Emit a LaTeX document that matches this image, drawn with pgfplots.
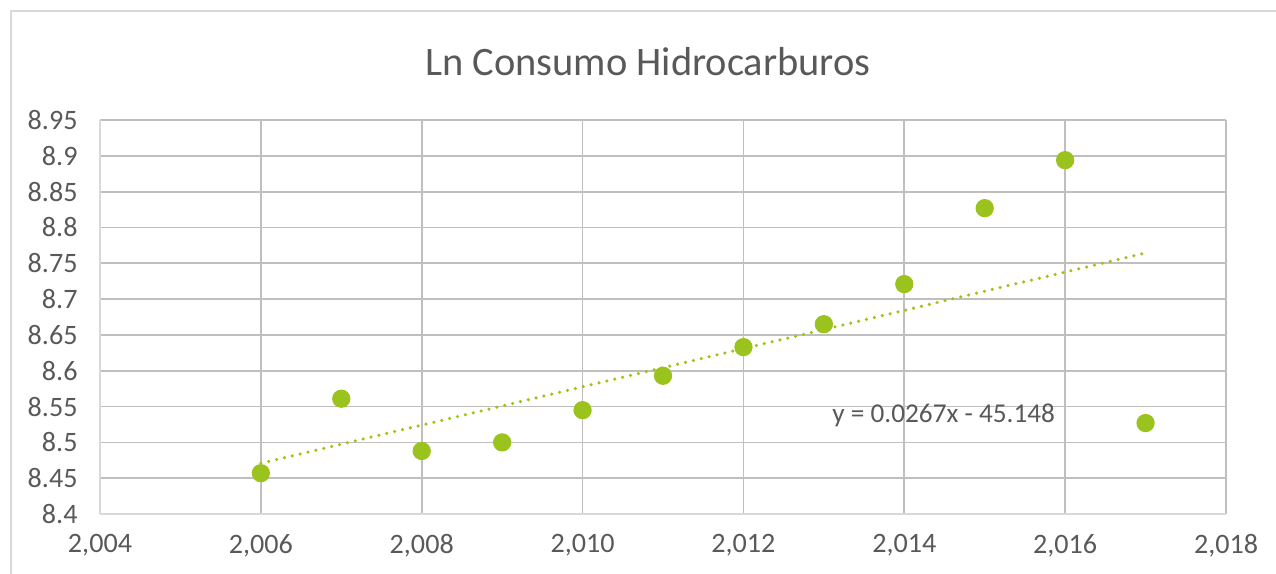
\documentclass[border=0pt]{standalone}
\usepackage{pgfplots}
\usepackage{pgfplotstable}
\pgfplotsset{compat=1.18}
\usepackage{fontspec}
\setmainfont{Carlito}
\definecolor{txt}{HTML}{595959}
\definecolor{grid}{HTML}{D9D9D9}
\definecolor{mk}{HTML}{9BC31E}
\pgfplotstableread{
x y
2006 8.457
2007 8.561
2008 8.488
2009 8.500
2010 8.545
2011 8.593
2012 8.633
2013 8.665
2014 8.721
2015 8.827
2016 8.894
2017 8.527
}\datatable
\pgfplotstableread{
x y
2006 8.4708
2017 8.7644
}\trendtable
\begin{document}
\begin{tikzpicture}
\path[use as bounding box] (0,0) rectangle (12.76cm,-5.73cm);
\draw[grid, line width=0.6pt] (0.11cm,-5.80cm) -- (0.11cm,-0.11cm) -- (12.80cm,-0.11cm);
\node[text=txt, font=\fontsize{11.5pt}{13pt}\selectfont] at (6.48cm,-0.62cm) {Ln Consumo Hidrocarburos};
\begin{axis}[
  at={(1.00cm,-5.14cm)}, anchor=south west,
  scale only axis, width=11.26cm, height=3.94cm,
  xmin=2004, xmax=2018, ymin=8.4, ymax=8.95,
  xtick={2004,2006,...,2018},
  ytick={8.4,8.45,...,8.96},
  grid=major,
  major grid style={grid, line width=0.5pt},
  axis line style={grid, line width=0.5pt},
  axis x line*=bottom, axis y line*=left,
  tick style={draw=none},
  ticklabel style={text=txt, font=\fontsize{8pt}{9pt}\selectfont},
  /pgf/number format/assume math mode=true,
  x tick label style={/pgf/number format/1000 sep={,}, /pgf/number format/fixed, /pgf/number format/precision=0, yshift=-0.08cm},
  y tick label style={/pgf/number format/fixed, /pgf/number format/precision=2, xshift=-0.1cm},
  clip=false,
]
\addplot[mk, line width=1pt, line cap=round, dash pattern=on 0pt off 2.3pt, no marks] table[x=x, y=y] {\trendtable};
\addplot[only marks, mark=*, mark size=2.4pt, mark options={fill=mk, draw=mk}] table[x=x, y=y] {\datatable};
\node[text=txt, font=\fontsize{7.75pt}{9pt}\selectfont] at (axis cs:2014.49,8.538) {y = 0.0267x - 45.148};
\end{axis}
\end{tikzpicture}
\end{document}
